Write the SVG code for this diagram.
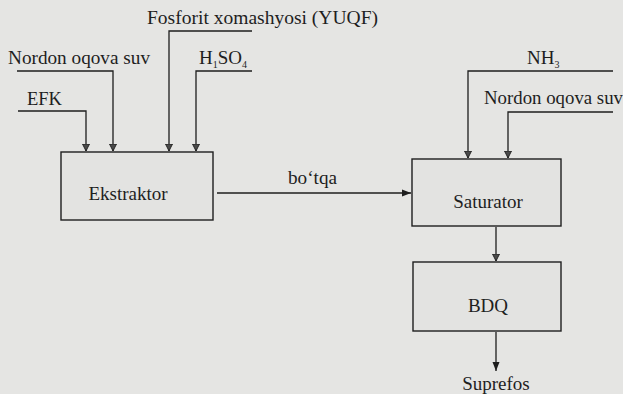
<svg xmlns="http://www.w3.org/2000/svg" width="623" height="394" viewBox="0 0 623 394">
<defs>
<style>
.bg{fill:#e5e5e3}
.box{fill:#e3e3e1;stroke:#1e1e1e;stroke-width:1.4}
.ln{fill:none;stroke:#1e1e1e;stroke-width:1.3}
.t{font-family:"Liberation Serif","Times New Roman",serif;font-size:19px;fill:#1e1e1e}
.sub{font-size:10px}
</style>
<marker id="ah" markerWidth="8" markerHeight="10" refX="7" refY="4" orient="auto" markerUnits="userSpaceOnUse">
<path d="M0,0.5 L7,4 L0,7.5 Z" fill="#4a4a4a" stroke="#1e1e1e" stroke-width="0.9"/>
</marker>
<marker id="af" markerWidth="10" markerHeight="10" refX="9" refY="4" orient="auto" markerUnits="userSpaceOnUse">
<path d="M0,0.5 L9,4 L0,7.5 Z" fill="#1e1e1e"/>
</marker>
</defs>
<rect class="bg" x="0" y="0" width="623" height="394"/>

<g id="connectors">
<path class="ln" d="M18,111 H86 V151" marker-end="url(#ah)"/>
<path class="ln" d="M17,71 H113 V151" marker-end="url(#ah)"/>
<path class="ln" d="M252,31 H169 V151" marker-end="url(#ah)"/>
<path class="ln" d="M252,71 H196 V151" marker-end="url(#ah)"/>
<path class="ln" d="M217,193 H411" marker-end="url(#af)"/>
<path class="ln" d="M613,71 H468 V158" marker-end="url(#ah)"/>
<path class="ln" d="M613,112 H508 V158" marker-end="url(#ah)"/>
<path class="ln" d="M496,227 V261" marker-end="url(#ah)"/>
<path class="ln" d="M496,332 V371" stroke-width="1.6" marker-end="url(#af)"/>
</g>

<g id="label-efk"><text class="t" x="27" y="105" textLength="35" lengthAdjust="spacingAndGlyphs">EFK</text></g>
<g id="label-nordon1"><text class="t" x="8" y="64" textLength="142" lengthAdjust="spacingAndGlyphs">Nordon oqova suv</text></g>
<g id="label-fosforit"><text class="t" x="147" y="24" textLength="231" lengthAdjust="spacingAndGlyphs">Fosforit xomashyosi (YUQF)</text></g>
<g id="label-h2so4"><text class="t" x="199" y="64">H<tspan class="sub" dy="4">1</tspan><tspan dy="-4">SO</tspan><tspan class="sub" dy="4">4</tspan></text></g>
<g id="label-nh3"><text class="t" x="527" y="64">NH<tspan class="sub" dy="4">3</tspan></text></g>
<g id="label-nordon2"><text class="t" x="484" y="104" textLength="139" lengthAdjust="spacingAndGlyphs">Nordon oqova suv</text></g>
<g id="label-botqa"><text class="t" x="288" y="184" textLength="49" lengthAdjust="spacingAndGlyphs">bo‘tqa</text></g>

<g id="ekstraktor">
<rect class="box" x="61" y="152" width="152" height="68"/>
<text class="t" x="128" y="200" text-anchor="middle">Ekstraktor</text>
</g>
<g id="saturator">
<rect class="box" x="412" y="159" width="149" height="67"/>
<text class="t" x="488" y="208" text-anchor="middle">Saturator</text>
</g>
<g id="bdq">
<rect class="box" x="413" y="262" width="148" height="69"/>
<text class="t" x="488" y="312" text-anchor="middle">BDQ</text>
</g>
<g id="label-suprefos"><text class="t" x="496" y="390" text-anchor="middle">Suprefos</text></g>
</svg>
